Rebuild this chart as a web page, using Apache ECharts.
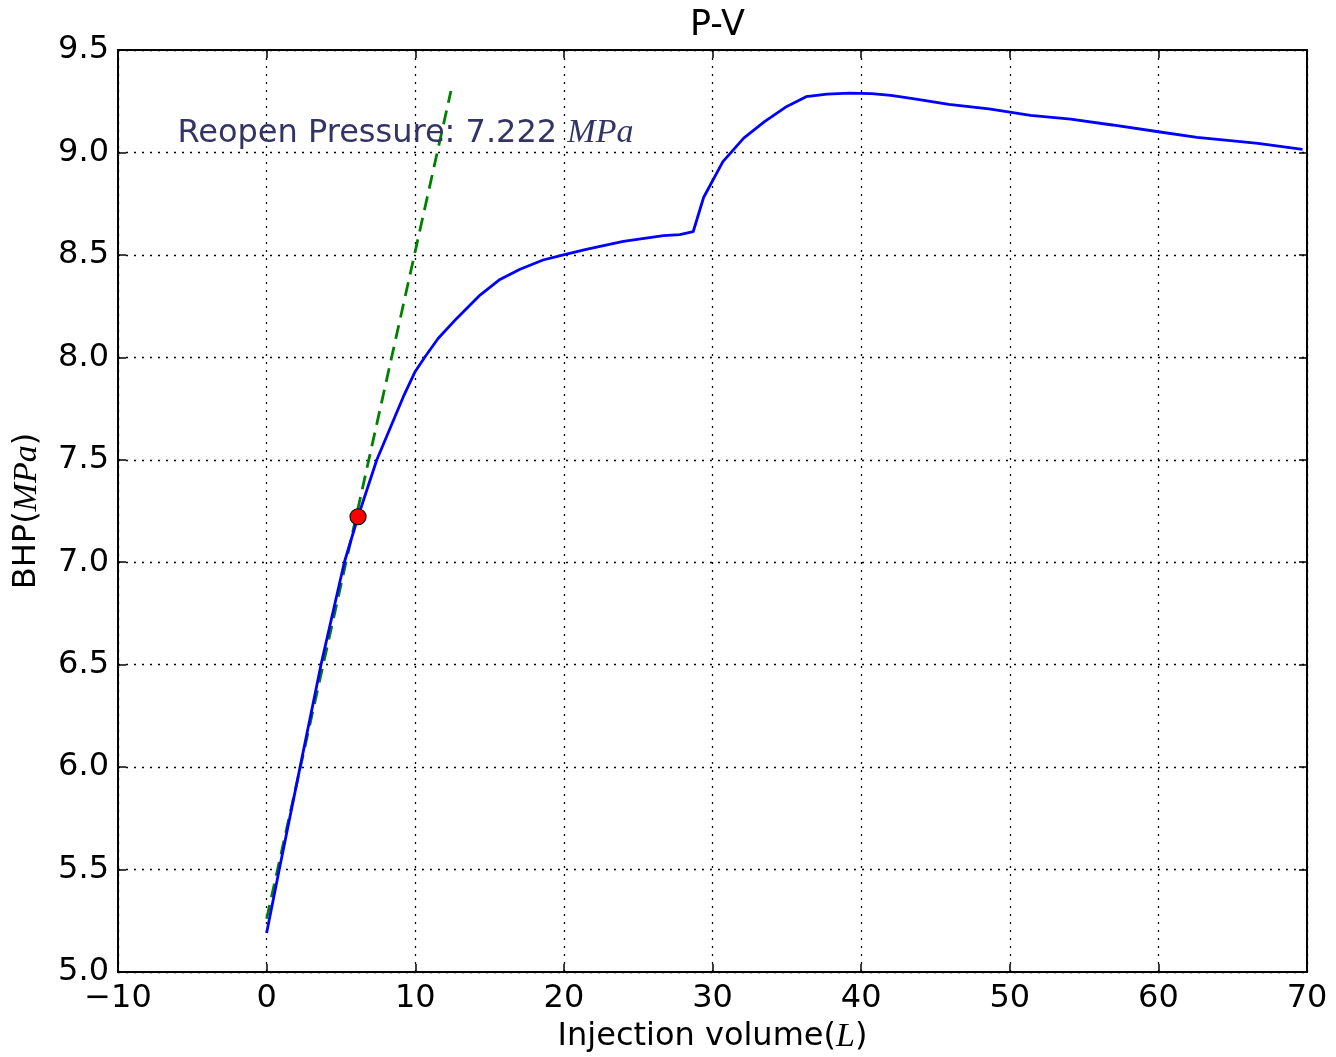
<!DOCTYPE html>
<html>
<head>
<meta charset="utf-8">
<script src="https://cdn.jsdelivr.net/npm/echarts@6/dist/echarts.min.js"></script>
<style>
html,body{margin:0;padding:0;background:#fff;}
#chart{width:1336px;height:1057px;}
</style>
</head>
<body>
<div id="chart"></div>
<script>
// Blue P-V curve
const volume = [0, 0.85, 2.25, 3.66, 5.23, 6.15, 7.41, 8.3, 9.2, 9.99, 10.66, 11.55, 12.79, 14.36, 15.7, 17.05, 18.6, 19.97, 21.5, 24.0, 26.7, 27.8, 28.7, 29.4, 30.7, 32.1, 33.5, 34.9, 36.3, 37.7, 39.2, 40.7, 42.0, 43.7, 45.9, 48.6, 51.4, 54.1, 56.9, 60.0, 62.6, 64.5, 66.7, 69.7];
const bhp = [5.19, 5.5, 6.0, 6.5, 7.0, 7.222, 7.499, 7.653, 7.808, 7.93, 8.003, 8.093, 8.19, 8.304, 8.38, 8.43, 8.475, 8.5, 8.527, 8.566, 8.594, 8.599, 8.613, 8.78, 8.955, 9.07, 9.15, 9.22, 9.272, 9.285, 9.29, 9.287, 9.279, 9.26, 9.235, 9.213, 9.181, 9.163, 9.134, 9.101, 9.074, 9.06, 9.044, 9.015];
// Green dashed tangent line
const fitX = [0, 12.4];
const fitY = [5.26, 9.30];
// Reopen point
const reopenX = 6.15;
const reopenP = 7.222;
// Axis ranges / ticks
const xTicks = {min: -10, max: 70, interval: 10};
const yTicks = {min: 5.0, max: 9.5, interval: 0.5};
const annotation = {x: -6, y: 9.05, text: 'Reopen Pressure: 7.222 '};

const chart = echarts.init(document.getElementById('chart'), null, {renderer: 'canvas'});
const FONT = 'DejaVu Sans';
const FS = 32;
const splitStyle = {show: true, lineStyle: {color: '#000', width: 1.3, type: [2, 6]}};
const axisLine = {show: true, onZero: false, lineStyle: {color: '#000', width: 2}};
const tick = {show: true, inside: true, length: 8, lineStyle: {color: '#000', width: 1.5}};
const italic = {fontFamily: 'Liberation Serif', fontStyle: 'italic', fontSize: 34, color: '#000'};
const fmtMinus = v => String(v).replace('-', '\u2212');

const option = {
  animation: false,
  backgroundColor: '#fff',
  title: {
    text: 'P-V', left: 685, top: 3,
    textStyle: {fontFamily: FONT, fontSize: 35, fontWeight: 'normal', color: '#000'}
  },
  grid: {left: 118, right: 29, top: 50, bottom: 85, containLabel: false, outerBoundsMode: 'none'},
  xAxis: [{
    type: 'value', min: xTicks.min, max: xTicks.max, interval: xTicks.interval,
    axisLine: axisLine, axisTick: tick, splitLine: splitStyle,
    axisLabel: {fontFamily: FONT, fontSize: FS, color: '#000', margin: 11, formatter: fmtMinus},
    name: 'Injection volume({i|L})', nameLocation: 'middle', nameGap: 47,
    nameTextStyle: {fontFamily: FONT, fontSize: FS, color: '#000', rich: {i: italic}}
  }, {
    type: 'value', position: 'top', min: xTicks.min, max: xTicks.max, interval: xTicks.interval,
    axisLine: axisLine, axisTick: tick, splitLine: {show: false}, axisLabel: {show: false}
  }],
  yAxis: [{
    type: 'value', min: yTicks.min, max: yTicks.max, interval: yTicks.interval,
    axisLine: axisLine, axisTick: tick, splitLine: splitStyle,
    axisLabel: {fontFamily: FONT, fontSize: FS, color: '#000', margin: 9, formatter: v => v.toFixed(1)},
    name: 'BHP({i|MPa})', nameLocation: 'middle', nameGap: 74, nameRotate: 90,
    nameTextStyle: {fontFamily: FONT, fontSize: FS, color: '#000', rich: {i: italic}}
  }, {
    type: 'value', position: 'right', min: yTicks.min, max: yTicks.max, interval: yTicks.interval,
    axisLine: axisLine, axisTick: tick, splitLine: {show: false}, axisLabel: {show: false}
  }],
  series: [{
    type: 'line', data: volume.map((v, i) => [v, bhp[i]]),
    showSymbol: false, symbol: 'none', smooth: false,
    lineStyle: {color: '#0000ff', width: 2.8}, z: 3
  }, {
    type: 'line', data: fitX.map((v, i) => [v, fitY[i]]),
    showSymbol: false, symbol: 'none',
    lineStyle: {color: '#008000', width: 2.8, type: [14, 8]}, z: 2
  }, {
    type: 'scatter', data: [[reopenX, reopenP]], symbol: 'circle', symbolSize: 16,
    itemStyle: {color: '#ff0000', borderColor: '#000', borderWidth: 1.2, opacity: 1}, z: 5
  }]
};
chart.setOption(option);

const p = chart.convertToPixel({gridIndex: 0}, [annotation.x, annotation.y]);
chart.setOption({
  graphic: [{
    type: 'text', left: p[0], top: p[1] - 26, z: 10,
    style: {
      text: annotation.text + '{i|MPa}',
      fontFamily: FONT, fontSize: 32, fill: '#333366',
      rich: {i: {fontFamily: 'Liberation Serif', fontStyle: 'italic', fontSize: 34, fill: '#333366', color: '#333366'}}
    }
  }]
});
</script>
</body>
</html>
